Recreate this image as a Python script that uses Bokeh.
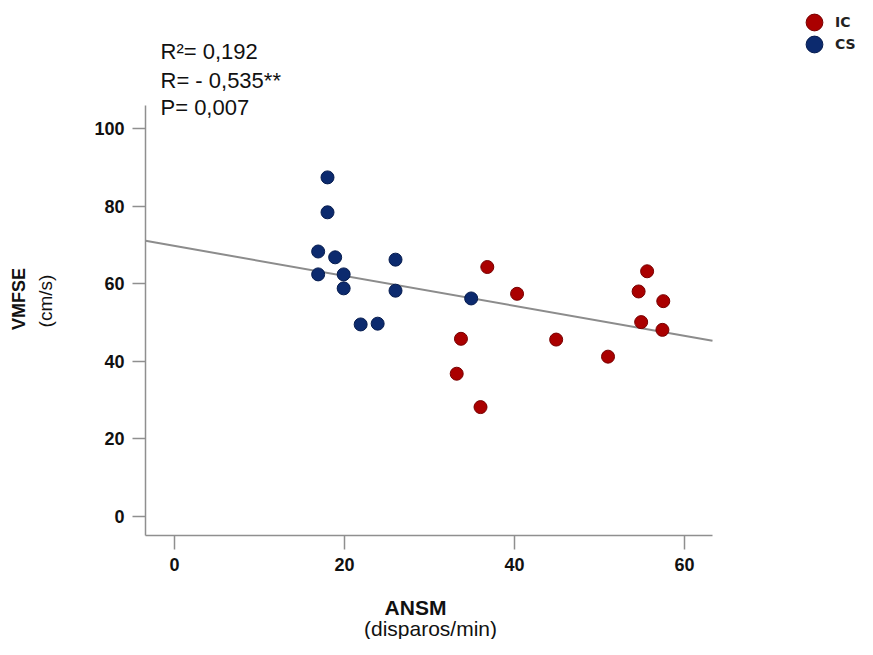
import numpy as np
from bokeh.plotting import figure
from bokeh.models import Label, Legend, LegendItem, FixedTicker, Range1d
from bokeh.embed import file_html
from bokeh.resources import INLINE

# ---- data ----
cs_x = [18.0, 18.0, 16.9, 18.9, 16.9, 19.9, 19.9, 21.9, 23.9, 26.0, 26.0, 34.9]
cs_y = [87.4, 78.4, 68.3, 66.8, 62.4, 62.4, 58.8, 49.5, 49.7, 66.2, 58.2, 56.2]
ic_x = [36.8, 40.3, 33.7, 33.2, 36.0, 44.9, 51.0, 55.6, 54.6, 57.5, 54.9, 57.4]
ic_y = [64.3, 57.4, 45.8, 36.8, 28.2, 45.6, 41.2, 63.2, 58.0, 55.5, 50.1, 48.1]
x_ticks = [0, 20, 40, 60]
y_ticks = [0, 20, 40, 60, 80, 100]
stats_lines = ["R²= 0,192", "R= - 0,535**", "P= 0,007"]
group_labels = ["IC", "CS"]
x_title = ["ANSM", "(disparos/min)"]
y_title = ["VMFSE", "(cm/s)"]

# axis extents (data units) of the drawn axis lines
x_bounds = (-3.41, 63.29)
y_bounds = (-4.90, 105.93)

# ---- figure: the frame covers the whole canvas, axes sit at fixed locations ----
W, H = 857, 639
p = figure(width=W, height=H, output_backend="svg", toolbar_location=None,
           x_range=Range1d(-20.47, 80.35), y_range=Range1d(-31.70, 132.99),
           min_border=0)
p.title.visible = False
p.outline_line_color = None
p.grid.visible = False
p.background_fill_color = "white"
p.border_fill_color = "white"

axis_col = "#8f8f8f"
for ax, ticks in ((p.xaxis, x_ticks), (p.yaxis, y_ticks)):
    ax.ticker = FixedTicker(ticks=ticks)
    ax.minor_tick_line_color = None
    ax.axis_line_color = axis_col
    ax.axis_line_width = 1.5
    ax.major_tick_line_color = axis_col
    ax.major_tick_line_width = 1.5
    ax.major_tick_in = 0
    ax.major_label_text_font = "Liberation Sans"
    ax.major_label_text_font_style = "bold"
    ax.major_label_text_font_size = "18px"
    ax.major_label_text_color = "#111111"
p.xaxis.fixed_location = y_bounds[0]
p.xaxis.bounds = x_bounds
p.yaxis.fixed_location = x_bounds[0]
p.yaxis.bounds = y_bounds
p.xaxis.major_tick_out = 14
p.xaxis.major_label_standoff = 8
p.yaxis.major_tick_out = 13
p.yaxis.major_label_standoff = 8

# regression line (least squares from the data), drawn across the axis extent
all_x = np.array(cs_x + ic_x)
all_y = np.array(cs_y + ic_y)
slope, intercept = np.polyfit(all_x, all_y, 1)
line_x = np.array(x_bounds)
p.line(line_x, intercept + slope * line_x, line_color="#8c8c8c", line_width=2)

r_ic = p.scatter(ic_x, ic_y, size=13, fill_color="#aa0000", line_color="#780000",
                 line_width=1)
r_cs = p.scatter(cs_x, cs_y, size=13, fill_color="#0c2a6e", line_color="#061c4f",
                 line_width=1)

# legends (top right)
for lab, rend, loc in ((group_labels[0], r_ic, (793, 596)),
                       (group_labels[1], r_cs, (793, 574))):
    leg = Legend(items=[LegendItem(label=lab, renderers=[rend])], location=loc,
                 border_line_color=None, background_fill_alpha=0, padding=0,
                 spacing=0, margin=0, glyph_width=42, glyph_height=42,
                 label_standoff=-9, label_text_font="DejaVu Sans",
                 label_text_font_style="bold", label_text_font_size="14px",
                 label_text_color="#222222")
    p.add_layout(leg)

# statistics text
for txt, yy in zip(stats_lines, (588.3, 559.0, 531.7)):
    p.add_layout(Label(x=160, y=yy, x_units="screen", y_units="screen", text=txt,
                       text_font="Liberation Sans", text_font_size="22px",
                       text_baseline="alphabetic", text_color="#111111"))

# axis titles
p.add_layout(Label(x=415, y=32, x_units="screen", y_units="screen", text=x_title[0],
                   text_font="Liberation Sans", text_font_style="bold",
                   text_font_size="21px", text_align="center",
                   text_baseline="alphabetic", text_color="#111111"))
p.add_layout(Label(x=430, y=11, x_units="screen", y_units="screen", text=x_title[1],
                   text_font="Liberation Sans", text_font_size="21px",
                   text_align="center", text_baseline="alphabetic",
                   text_color="#111111"))
p.add_layout(Label(x=18, y=340.5, x_units="screen", y_units="screen", text=y_title[0],
                   angle=np.pi / 2, text_font="Liberation Sans",
                   text_font_style="bold", text_font_size="18px",
                   text_align="center", text_baseline="alphabetic",
                   text_color="#111111"))
p.add_layout(Label(x=45, y=338.5, x_units="screen", y_units="screen", text=y_title[1],
                   angle=np.pi / 2, text_font="Liberation Sans",
                   text_font_size="19px", text_align="center",
                   text_baseline="alphabetic", text_color="#111111"))

open("out.html", "w").write(file_html(p, INLINE))
